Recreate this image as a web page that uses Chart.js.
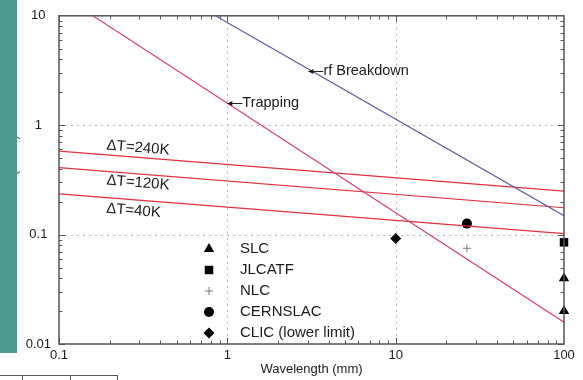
<!DOCTYPE html>
<html>
<head>
<meta charset="utf-8">
<title>Gradient vs wavelength</title>
<script src="https://cdn.jsdelivr.net/npm/chart.js@4.4.1/dist/chart.umd.min.js"></script>
<style>
    html, body { margin: 0; padding: 0; background: #fff; }
    #wrap { position: relative; width: 583px; height: 380px; overflow: hidden; }
    #side { position: absolute; left: 0; top: 0; width: 17px; height: 353px; background: #4b9b90; }
    #tbl { position: absolute; left: 0; top: 375px; width: 118px; height: 8px; border-top: 1px solid #555; }
    .sep { position: absolute; top: 0; width: 0; height: 8px; border-left: 1px solid #555; }
</style>
</head>
<body>
<div id="wrap">
    <canvas id="chart" width="583" height="380"></canvas>
    <div id="side"></div>
    <div id="tbl"><div class="sep" style="left:22px"></div><div class="sep" style="left:70px"></div><div class="sep" style="left:117px"></div></div>
</div>
<script>
// axis ticks
const xTicks = [0.1, 1, 10, 100];
const xTickLabels = ['0.1', '1', '10', '100'];
const yTicks = [0.01, 0.1, 1, 10];
const yTickLabels = ['0.01', '0.1', '1', '10'];

// limit curves (straight lines on log-log)
const rfX = [0.85, 100];
const rfY = [10, 0.149];
const trapX = [0.159, 100];
const trapY = [10, 0.0158];
const dtX = [0.1, 100];
const dt240 = [0.58, 0.25];
const dt120 = [0.41, 0.176];
const dt40 = [0.236, 0.102];

// machines
const slcX = [100, 100];
const slcY = [0.04, 0.02];
const jlcX = [100];
const jlcY = [0.085];
const nlcX = [26.5];
const nlcY = [0.075];
const cernX = [26.5];
const cernY = [0.126];
const clicX = [10];
const clicY = [0.092];

const pts = (xs, ys) => xs.map((v, i) => ({x: v, y: ys[i]}));

const lineSet = (label, xs, ys, color) => ({
    label: label,
    data: pts(xs, ys),
    showLine: true,
    borderColor: color,
    borderWidth: 1.2,
    pointRadius: 0,
    legend: false
});

const markSet = (label, xs, ys, style, radius, color) => ({
    label: label,
    data: pts(xs, ys),
    pointStyle: style,
    pointRadius: radius,
    pointBackgroundColor: color,
    pointBorderColor: color,
    pointBorderWidth: style === 'cross' ? 1 : 0,
    clip: false,
    legend: true
});

const datasets = [
    lineSet('rf Breakdown', rfX, rfY, '#5b5ba3'),
    lineSet('Trapping', trapX, trapY, '#d6407c'),
    lineSet('dT240', dtX, dt240, '#e0303c'),
    lineSet('dT120', dtX, dt120, '#e0303c'),
    lineSet('dT40', dtX, dt40, '#e0303c'),
    markSet('SLC', slcX, slcY, 'triangle', 6, '#000'),
    markSet('JLCATF', jlcX, jlcY, 'rect', 6, '#000'),
    markSet('NLC', nlcX, nlcY, 'cross', 4, '#777'),
    markSet('CERNSLAC', cernX, cernY, 'circle', 5, '#000'),
    markSet('CLIC (lower limit)', clicX, clicY, 'rectRot', 5.5, '#000')
];

const font = 'Liberation Sans, Arial, sans-serif';

const drawArrowLabel = (ctx, px, py, text) => {
    ctx.beginPath();
    ctx.moveTo(px, py);
    ctx.lineTo(px + 15, py);
    ctx.stroke();
    ctx.beginPath();
    ctx.moveTo(px, py);
    ctx.lineTo(px + 5, py - 2.5);
    ctx.lineTo(px + 5, py + 2.5);
    ctx.closePath();
    ctx.fill();
    ctx.fillText(text, px + 15, py);
};

const decoPlugin = {
    id: 'deco',
    beforeDatasetsDraw(chart) {
        const {ctx, chartArea: a, scales: {x, y}} = chart;
        ctx.save();
        // dotted grid at decades
        ctx.strokeStyle = '#b5b5b5';
        ctx.lineWidth = 1;
        ctx.setLineDash([2, 4]);
        [1, 10].forEach(v => {
            const px = Math.round(x.getPixelForValue(v)) + 0.5;
            ctx.beginPath(); ctx.moveTo(px, a.top); ctx.lineTo(px, a.bottom); ctx.stroke();
        });
        [0.1, 1].forEach(v => {
            const py = Math.round(y.getPixelForValue(v)) + 0.5;
            ctx.beginPath(); ctx.moveTo(a.left, py); ctx.lineTo(a.right, py); ctx.stroke();
        });
        ctx.setLineDash([]);
        // inward ticks on all four sides
        ctx.strokeStyle = '#555';
        ctx.lineWidth = 1;
        const tick = (v, i, scale, horiz) => {
            const len = i === 1 ? 6 : 3.5;
            const p = Math.round(scale.getPixelForValue(v)) + 0.5;
            ctx.beginPath();
            if (horiz) {
                ctx.moveTo(p, a.bottom); ctx.lineTo(p, a.bottom - len);
                ctx.moveTo(p, a.top); ctx.lineTo(p, a.top + len);
            } else {
                ctx.moveTo(a.left, p); ctx.lineTo(a.left + len, p);
                ctx.moveTo(a.right, p); ctx.lineTo(a.right - len, p);
            }
            ctx.stroke();
        };
        [0.1, 1, 10].forEach(d => { for (let i = 1; i < 10; i++) tick(d * i, i, x, true); });
        [0.01, 0.1, 1].forEach(d => { for (let i = 1; i < 10; i++) tick(d * i, i, y, false); });
        ctx.restore();
    },
    afterDatasetsDraw(chart) {
        const {ctx, chartArea: a, scales: {x, y}} = chart;
        ctx.save();
        // frame
        ctx.strokeStyle = '#555';
        ctx.lineWidth = 1.5;
        ctx.strokeRect(a.left, a.top, a.right - a.left, a.bottom - a.top);

        // curve annotations
        ctx.fillStyle = '#1a1a1a';
        ctx.strokeStyle = '#1a1a1a';
        ctx.lineWidth = 1;
        ctx.font = '14.5px ' + font;
        ctx.textBaseline = 'middle';
        ctx.textAlign = 'left';
        drawArrowLabel(ctx, x.getPixelForValue(3.03), y.getPixelForValue(3.1), 'rf Breakdown');
        drawArrowLabel(ctx, x.getPixelForValue(1.0), y.getPixelForValue(1.58), 'Trapping');

        ctx.font = '15px ' + font;
        const ang = Math.atan2(y.getPixelForValue(dt240[1]) - y.getPixelForValue(dt240[0]),
                x.getPixelForValue(dtX[1]) - x.getPixelForValue(dtX[0]));
        [['\u0394T=240K', 0.295, 0.62], ['\u0394T=120K', 0.295, 0.297], ['\u0394T=40K', 0.277, 0.165]].forEach(t => {
            ctx.save();
            ctx.translate(x.getPixelForValue(t[1]), y.getPixelForValue(t[2]));
            ctx.rotate(ang);
            ctx.textAlign = 'center';
            ctx.fillText(t[0], 0, 0);
            ctx.restore();
        });

        // legend inside the plot
        ctx.font = '15px ' + font;
        let ly = 249;
        chart.data.datasets.filter(d => d.legend).forEach(d => {
            ctx.fillStyle = d.pointBackgroundColor;
            ctx.strokeStyle = d.pointBorderColor;
            ctx.lineWidth = d.pointBorderWidth;
            Chart.helpers.drawPoint(ctx, {pointStyle: d.pointStyle, radius: d.pointRadius, borderWidth: d.pointBorderWidth, rotation: 0}, 209, ly);
            ctx.fillStyle = '#1a1a1a';
            ctx.fillText(d.label, 240, ly);
            ly += 21;
        });

        // y title, mostly hidden behind the side band
        ctx.save();
        ctx.translate(14, (a.top + a.bottom) / 2);
        ctx.rotate(-Math.PI / 2);
        ctx.textAlign = 'center';
        ctx.font = '12px ' + font;
        ctx.fillStyle = '#333';
        ctx.fillText('Gradient (MV/m)', 0, 0);
        ctx.restore();
        ctx.restore();
    }
};

const ctx = document.getElementById('chart');
new Chart(ctx, {
    type: 'scatter',
    data: {datasets: datasets},
    options: {
        responsive: false,
        animation: false,
        layout: {padding: {left: 0, top: 14, right: 19, bottom: 0}},
        plugins: {legend: {display: false}, tooltip: {enabled: false}},
        scales: {
            x: {
                type: 'logarithmic',
                min: 0.1,
                max: 100,
                afterBuildTicks: s => { s.ticks = xTicks.map(v => ({value: v})); },
                afterFit: s => { s.height = 36; },
                ticks: {
                    autoSkip: false,
                    maxRotation: 0,
                    padding: 4,
                    color: '#1a1a1a',
                    font: {family: font, size: 13},
                    callback: v => xTickLabels[xTicks.indexOf(v)]
                },
                grid: {display: false, drawTicks: false},
                border: {display: false},
                title: {display: true, text: 'Wavelength (mm)', color: '#1a1a1a', font: {family: font, size: 13}, padding: {top: 0, bottom: 3}}
            },
            y: {
                type: 'logarithmic',
                min: 0.01,
                max: 10,
                afterBuildTicks: s => { s.ticks = yTicks.map(v => ({value: v})); },
                afterFit: s => { s.width = 59; },
                ticks: {
                    autoSkip: false,
                    padding: 8,
                    crossAlign: 'center',
                    color: '#1a1a1a',
                    font: {family: font, size: 13},
                    callback: v => yTickLabels[yTicks.indexOf(v)]
                },
                grid: {display: false, drawTicks: false},
                border: {display: false}
            }
        }
    },
    plugins: [decoPlugin]
});
</script>
</body>
</html>
